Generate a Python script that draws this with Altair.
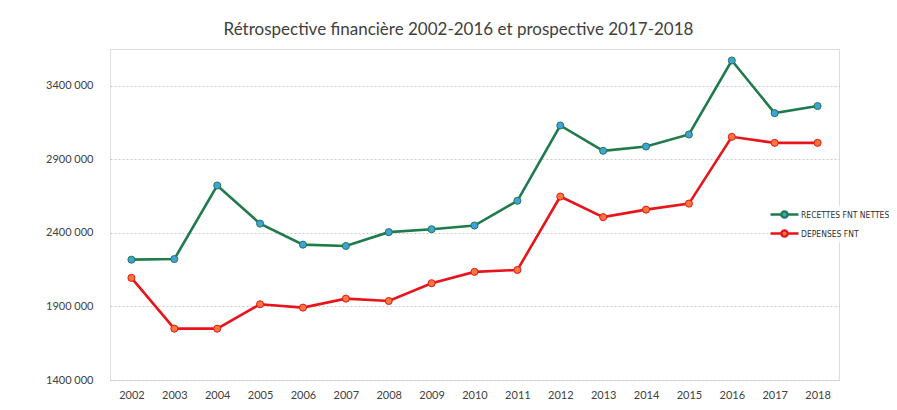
import altair as alt
import pandas as pd

years = [str(y) for y in range(2002, 2019)]
recettes = [2218000, 2222000, 2722000, 2463000, 2320000, 2311000, 2405000, 2425000,
            2450000, 2618000, 3130000, 2958000, 2987000, 3069000, 3572000, 3214000, 3262000]
depenses = [2094000, 1749000, 1749000, 1915000, 1892000, 1953000, 1937000, 2058000,
            2135000, 2148000, 2647000, 2507000, 2558000, 2599000, 3053000, 3012000, 3012000]
series_names = ["RECETTES FNT NETTES", "DEPENSES FNT"]
line_colors = ["#1f7a4c", "#e8141c"]
point_fills = ["#3fa2da", "#f5783a"]
y_ticks = [1400000, 1900000, 2400000, 2900000, 3400000]

rows = []
for i, y in enumerate(years):
    rows.append({"annee": y, "serie": series_names[0], "valeur": recettes[i]})
    rows.append({"annee": y, "serie": series_names[1], "valeur": depenses[i]})
df = pd.DataFrame(rows)

font = "Lato"
x_enc = alt.X("annee:N", title=None, sort=years,
              scale=alt.Scale(paddingInner=1, paddingOuter=0.5),
              axis=alt.Axis(labelAngle=0, domain=False, ticks=False, grid=False,
                            labelPadding=9, labelFontSize=11, labelColor="#404040",
                            labelFont=font))
y_enc = alt.Y("valeur:Q", title=None,
              scale=alt.Scale(domain=[1400000, 3650000], nice=False, zero=False),
              axis=alt.Axis(values=y_ticks, domain=False, ticks=False, labelPadding=17,
                            labelFontSize=11, labelColor="#404040", labelFont=font,
                            labelExpr="floor(datum.value/1000) + ' 000'",
                            gridColor="#c8c8c8", gridDash=[2, 2], gridWidth=1))

sym = "M-2,0L-0.45,0M0.45,0L2,0M0.45,0A0.45,0.45 0 1,1 -0.45,0A0.45,0.45 0 1,1 0.45,0Z"
leg = alt.Legend(title=None, orient="none", legendX=666, legendY=157,
                 symbolType=sym, symbolSize=196, symbolStrokeWidth=2.4,
                 labelOffset=8, rowPadding=2, padding=0,
                 labelFont="DejaVu Sans Condensed, Roboto Condensed, Roboto", labelFontSize=8.5,
                 labelColor="#303030", fillColor="white", labelLimit=200)

base = alt.Chart(df)
lines = base.mark_line(strokeWidth=2.6).encode(
    x=x_enc, y=y_enc,
    stroke=alt.Stroke("serie:N", sort=series_names,
                      scale=alt.Scale(domain=series_names, range=line_colors), legend=leg),
)
points = base.mark_point(filled=True, size=50, opacity=1, strokeWidth=1).encode(
    x=x_enc, y=y_enc,
    fill=alt.Fill("serie:N", sort=series_names,
                  scale=alt.Scale(domain=series_names, range=point_fills), legend=leg),
    stroke=alt.Stroke("serie:N", sort=series_names,
                      scale=alt.Scale(domain=series_names, range=line_colors), legend=leg),
)

chart = alt.layer(lines, points).properties(
    width=729, height=331,
    padding={"left": 102, "top": 41, "right": 50, "bottom": 20},
    autosize=alt.AutoSizeParams(type="none"),
    title=alt.Title("Rétrospective financière 2002-2016 et prospective 2017-2018",
                    font=font, fontSize=17, fontWeight="normal", color="#404040",
                    offset=10, dx=-16),
).configure_view(stroke=None).configure(background="white")

chart.save("out.html", embed_options={"renderer": "svg", "actions": False})
